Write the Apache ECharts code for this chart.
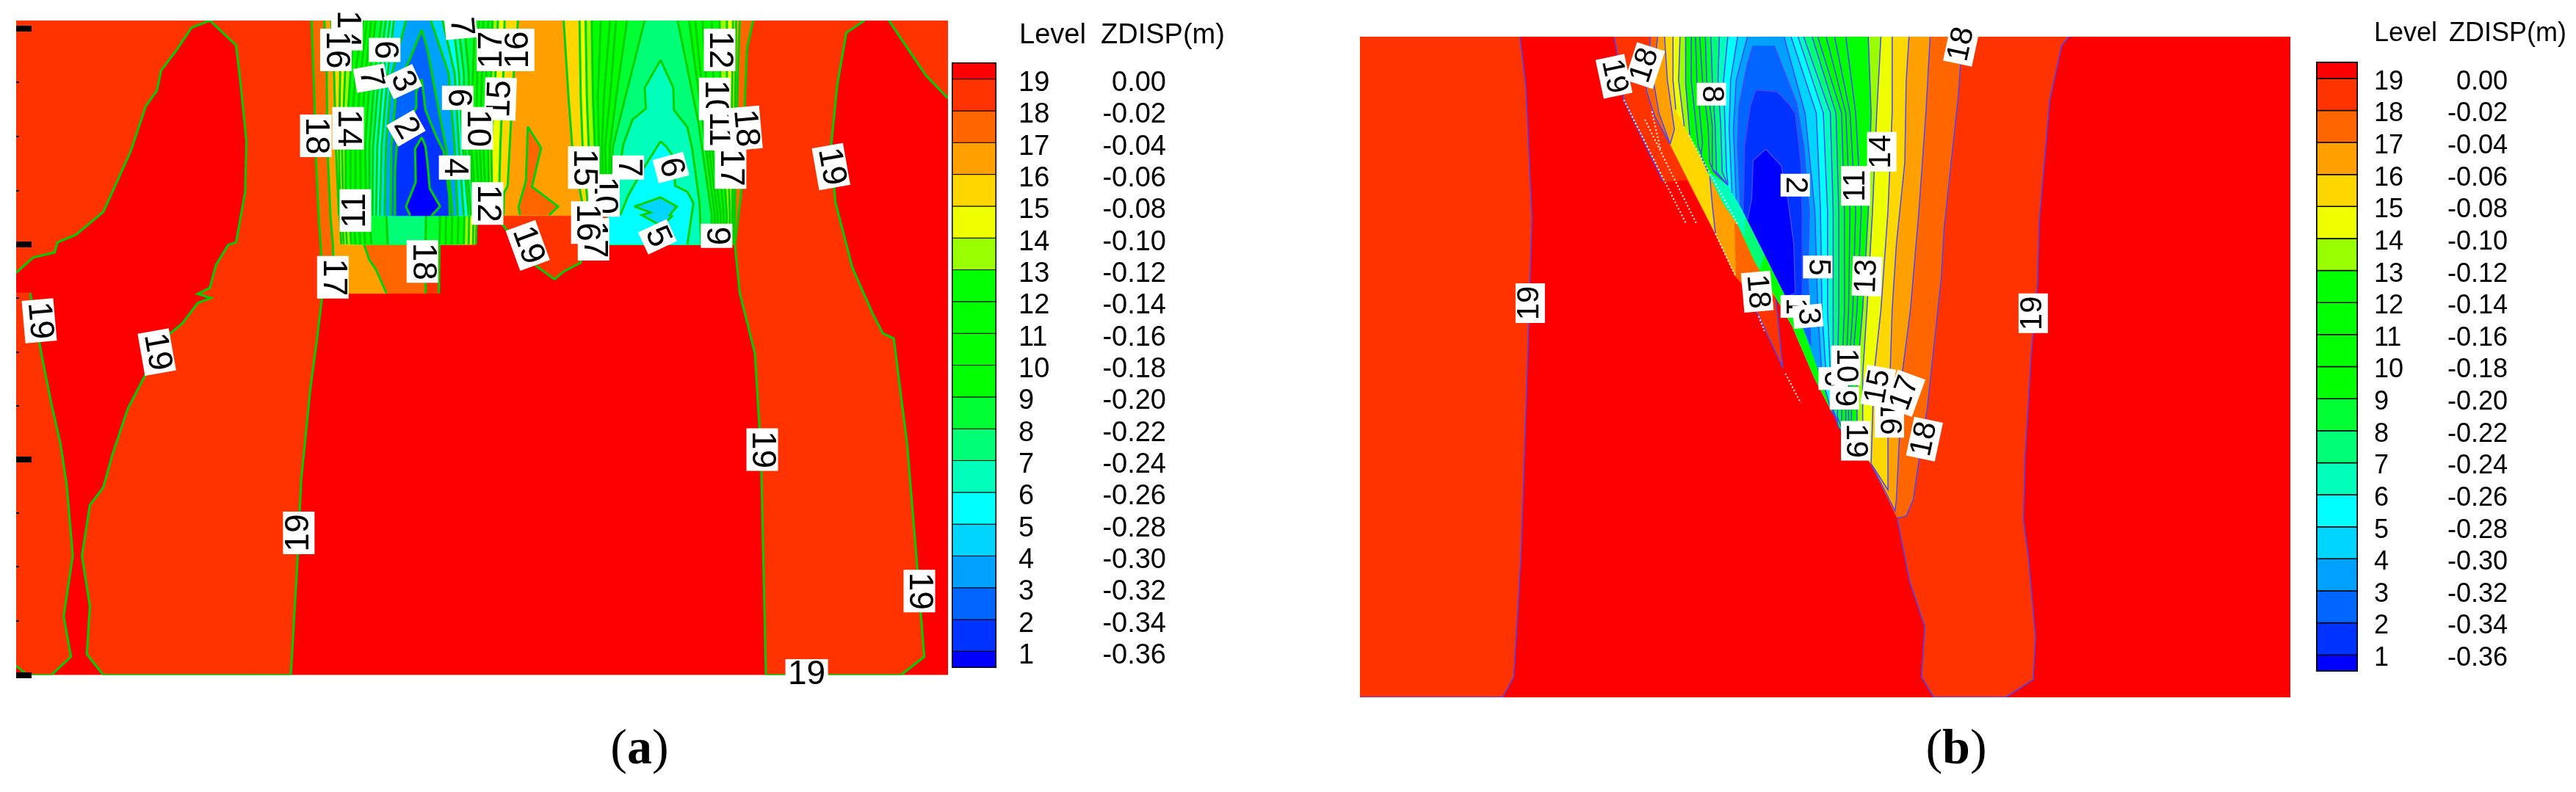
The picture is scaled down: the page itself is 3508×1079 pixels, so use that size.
<!DOCTYPE html>
<html>
<head>
<meta charset="utf-8">
<script src="https://cdn.jsdelivr.net/npm/echarts@6/dist/echarts.min.js"></script>
<style>
html,body{margin:0;padding:0;background:#fff}
#chart{width:3508px;height:1079px}
</style>
</head>
<body>
<div id="chart"></div>
<script>
// legend table
const levels = [19,18,17,16,15,14,13,12,11,10,9,8,7,6,5,4,3,2,1];
const zdisp = ['0.00','-0.02','-0.04','-0.06','-0.08','-0.10','-0.12','-0.14','-0.16','-0.18','-0.20','-0.22','-0.24','-0.26','-0.28','-0.30','-0.32','-0.34','-0.36'];
// colour of the band just under level i+1 (index 0 = deepest)
const bandColors = ['#0000FF','#0033FF','#0066FF','#00A0FF','#00D5FF','#00FFFF','#00FFBB','#00FF77','#00FF33','#00FF00','#00FF00','#00FF00','#00FF00','#99FF00','#EEFF00','#FFD700','#FFA000','#FF6600','#FF3300','#FF0000'];

// panel (a) contours, in the units of the axes below
const aBase = [[27,41],[1557,41],[1557,1336],[27,1336]];
const a19Left1 = [[27,41],[345,41],[315,55],[290,100],[265,140],[258,180],[240,210],[215,300],[185,380],[170,420],[125,465],[95,480],[90,500],[55,510],[27,540]];
const a19Left2 = [[27,580],[50,580],[70,710],[85,800],[100,880],[110,960],[120,1100],[105,1220],[117,1300],[85,1336],[45,1336],[27,1318]];
const a19Main = [[345,41],[388,90],[395,160],[405,280],[403,380],[388,480],[375,485],[355,525],[345,570],[325,582],[347,590],[325,600],[300,640],[280,660],[240,740],[210,810],[185,900],[170,965],[148,1000],[135,1100],[148,1200],[143,1295],[170,1336],[478,1336],[488,1130],[495,950],[510,770],[520,680],[530,581],[721,581],[722,484],[782,484],[782,440],[822,440],[882,528],[911,553],[927,537],[954,520],[954,484],[1207,484],[1215,580],[1240,700],[1250,900],[1258,1336],[1480,1336],[1518,1300],[1505,1100],[1490,880],[1468,670],[1450,660],[1433,620],[1400,530],[1372,400],[1365,290],[1375,170],[1390,65],[1420,41]];
const a19Corner = [[1460,41],[1490,95],[1521,150],[1557,195],[1557,41]];
const a18 = [[512,41],[517,208],[519,310],[524,436],[527,484],[530,581],[699,581],[700,484],[782,484],[782,427],[999,427],[999,484],[1207,484],[1217,387],[1222,242],[1227,97],[1237,41]];
const a17 = [[533,41],[537,145],[538,290],[543,426],[547,484],[550,581],[635,581],[617,532],[607,515],[598,484],[782,484],[782,427],[999,427],[999,484],[1204,484],[1207,435],[1209,290],[1212,145],[1215,41]];
const a18Patch = [[867,251],[889,293],[874,370],[917,409],[902,426],[854,426],[852,409],[864,358]];
const a16L = [[544,41],[549,145],[552,290],[557,427],[827,427],[828,382],[834,368],[839,252],[844,145],[851,41]];
const a16R = [[926,41],[934,194],[940,290],[960,426],[999,426],[999,484],[1204,484],[1205,426],[1207,242],[1209,41]];
const a16S = [[558,427],[561,484],[782,484],[783,427]];
const a15L = [[557,41],[559,145],[557,290],[559,427],[819,427],[822,290],[827,145],[829,41]];
const a15R = [[952,41],[954,194],[957,290],[967,426],[999,426],[999,484],[1202,484],[1203,426],[1202,242],[1204,41]];
const a15S = [[562,427],[565,484],[777,484],[778,427]];
const a14L = [[569,41],[567,145],[562,290],[564,427],[809,427],[807,290],[814,145],[818,41]];
const a14R = [[962,41],[964,194],[967,290],[974,426],[999,426],[999,484],[1198,484],[1199,426],[1194,242],[1194,41]];
const a14S = [[567,427],[570,484],[770,484],[771,427]];
const a13L = [[582,41],[576,145],[568,290],[568,427],[804,427],[802,290],[807,145],[809,41]];
const a13R = [[972,41],[974,194],[977,290],[982,426],[999,426],[999,484],[1193,484],[1194,426],[1184,242],[1182,41]];
const a13S = [[574,427],[577,484],[762,484],[763,427]];
const a12L = [[597,41],[584,145],[576,290],[576,427],[799,427],[794,290],[799,145],[802,41]];
const a12R = [[987,41],[982,194],[984,290],[988,426],[999,426],[999,484],[1188,484],[1189,426],[1174,242],[1169,41]];
const a12S = [[581,427],[584,484],[752,484],[753,427]];
const a11L = [[603,41],[593,145],[584,290],[584,427],[794,427],[788,290],[792,145],[794,41]];
const a11R = [[1002,41],[992,194],[989,290],[992,426],[999,426],[999,484],[1183,484],[1184,426],[1164,242],[1154,41]];
const a11S = [[589,427],[592,484],[742,484],[743,427]];
const a10L = [[610,41],[601,145],[592,290],[593,427],[789,427],[782,290],[784,145],[787,41]];
const a10R = [[1012,41],[1002,194],[994,290],[997,426],[999,426],[999,484],[1178,484],[1179,426],[1159,242],[1142,41]];
const a10S = [[597,427],[600,484],[732,484],[733,427]];
const a9L = [[617,41],[608,145],[600,290],[602,427],[784,427],[774,290],[777,145],[780,41]];
const a9R = [[1030,41],[1012,194],[1002,290],[999,426],[999,484],[1173,484],[1174,426],[1154,242],[1132,41]];
const a9S = [[607,427],[610,484],[722,484],[723,427]];
const a8L = [[627,41],[616,145],[607,290],[607,427],[780,427],[770,290],[770,145],[762,41]];
const a8R = [[1059,41],[1027,194],[1007,290],[999,426],[999,484],[1168,484],[1169,426],[1147,242],[1113,41]];
const a8S = [[635,427],[637,484],[699,484],[700,427]];
const a7L = [[634,41],[623,145],[613,290],[612,427],[774,427],[764,290],[762,145],[752,41]];
const a7R = [[1085,119],[1059,174],[1061,215],[1039,237],[1024,286],[1017,339],[1012,426],[999,426],[999,484],[1152,484],[1149,402],[1137,295],[1129,252],[1107,218],[1106,174]];
const a6L = [[641,41],[630,145],[620,290],[618,427],[770,427],[760,290],[754,145],[744,41]];
const a6R = [[1085,280],[1057,334],[1032,387],[1019,426],[999,426],[999,484],[1129,484],[1139,402],[1129,380],[1109,368],[1106,310],[1094,290]];
const a5L = [[647,41],[637,145],[627,290],[624,427],[762,427],[754,290],[747,145],[727,41]];
const a5R = [[1042,409],[1085,391],[1112,409],[1100,426],[1104,428],[1087,448],[1054,426],[1069,421]];
const a4 = [[667,41],[644,145],[634,290],[632,427],[752,427],[747,290],[737,145],[708,41]];
const a3 = [[693,59],[672,121],[652,169],[643,290],[642,427],[744,427],[734,300],[717,194],[702,97]];
const a2 = [[693,157],[684,181],[684,213],[652,286],[649,339],[649,427],[739,427],[738,387],[729,300],[717,271],[699,218]];
const a1 = [[693,272],[682,295],[683,361],[667,409],[674,427],[709,427],[723,409],[706,373],[702,319],[699,290]];

const aContours = [[20,aBase],[19,a19Left1],[19,a19Left2],[19,a19Main],[19,a19Corner],[18,a18],[17,a17],[18,a18Patch],
  [16,a16L],[16,a16R],[16,a16S],[15,a15L],[15,a15R],[15,a15S],[14,a14L],[14,a14R],[14,a14S],[13,a13L],[13,a13R],[13,a13S],
  [12,a12L],[12,a12R],[12,a12S],[11,a11L],[11,a11R],[11,a11S],[10,a10L],[10,a10R],[10,a10S],[9,a9L],[9,a9R],[9,a9S],
  [8,a8L],[8,a8R],[8,a8S],[7,a7L],[7,a7R],[6,a6L],[6,a6R],[5,a5L],[5,a5R],[4,a4],[3,a3],[2,a2],[1,a1]];
// text, x, y, rotation in degrees
const aLabels = [['14',570,58,-90],['16',552,99,-90],['6',632,99,-90],['7',609,155,-80],['3',662,162,-65],['2',667,254,-60],['14',572,254,-90],['18',519,269,-90],
  ['7',757,53,-85],['17',809,99,90],['16',852,99,90],['15',822,196,88],['6',752,194,-90],['10',784,254,-90],['4',747,332,-90],['12',801,403,-90],['11',584,417,90],
  ['18',694,518,-90],['17',547,549,-90],['19',867,486,-70],['10',992,387,-90],['15',959,332,-90],['17',975,474,-90],['16',964,441,-90],['7',1032,332,-90],['6',1102,332,-75],
  ['5',1080,469,-65],['9',1177,467,-90],['12',1182,99,-90],['10',1174,196,-90],['11',1182,256,-90],['18',1224,254,-85],['17',1200,332,-90],
  ['19',65,635,-85],['19',258,697,-80],['19',491,1055,90],['19',1252,890,-90],['19',1365,330,-80],['19',1510,1170,-90],['19',1325,1336,0]];
const aCutX = [27,782,999,1557];
const aMajorTicks = [57,484,909,1336];
const aMinorTicks = [163,270,377,590,697,803,1015,1122,1229];

// panel (b) contours
const bBase = [[-779,67],[2532,67],[2532,2083],[-779,2083]];
const bLowerEdge = [[627,754],[700,860],[760,950],[840,1110],[900,1210],[1040,1370]];
const bUpperEdge = [[460,480],[514,575],[566,640]];
const bInnerEdge = [[580,592],[640,694],[700,797],[737,860]];
const b19Left = [[-779,67],[-210,67],[-189,217],[-167,618],[-182,1034],[-206,1651],[-232,2021],[-271,2083],[-779,2083]];
const b19Main = [[125,67],[135,110],[160,260],[300,510],[385,505],[486,668],[558,799],[580,821],[640,920],[725,1075],[700,860],[760,950],[840,1110],[900,1210],[1040,1370],[1133,1536],[1177,1728],[1231,1867],[1220,2021],[1263,2083],[1519,2083],[1617,2029],[1625,1898],[1599,1651],[1582,1543],[1588,1343],[1610,1034],[1632,819],[1638,634],[1675,264],[1718,94],[1744,67]];
const b18 = [[255,67],[240,230],[270,310],[325,395],[486,668],[558,799],[580,821],...bLowerEdge.slice(1),[1133,1536],[1140,1535],[1165,1530],[1190,1480],[1205,1390],[1240,1200],[1265,1000],[1290,800],[1300,650],[1325,450],[1350,250],[1360,130],[1370,67]];
const b17 = [[280,67],[265,200],[285,300],[325,395],[486,668],[558,799],[553,634],[566,640],...bLowerEdge,[1125,1515],[1130,1480],[1140,1300],[1150,1100],[1180,900],[1210,600],[1235,300],[1250,67]];
const b16 = [[305,67],[315,200],[340,350],[325,395],[486,668],[475,582],[466,492],...bUpperEdge,...bLowerEdge,[1100,1450],[1100,1300],[1115,900],[1130,700],[1160,450],[1165,200],[1175,67]];
const b15 = [[335,67],[335,200],[345,290],...bUpperEdge,...bLowerEdge,[1050,1100],[1075,900],[1100,600],[1115,300],[1115,67]];
const b14 = [[360,67],[355,200],[375,340],...bUpperEdge,...bLowerEdge.slice(0,5),[1010,1340],[1010,1100],[1025,900],[1045,600],[1060,300],[1075,67]];
const b13 = [[380,67],[380,210],[395,370],...bUpperEdge,...bLowerEdge.slice(0,5),[990,1320],[990,1100],[1010,900],[1030,600],[1040,300],[1030,67]];
const b12 = [[400,67],[400,200],[425,400],...bUpperEdge,...bLowerEdge.slice(0,5),[970,1300],[970,1100],[990,900],[1005,600],[985,300],[950,67]];
const b11 = [[415,67],[420,200],[440,390],[435,430],...bUpperEdge,...bLowerEdge.slice(0,5),[960,1290],[960,1100],[975,900],[985,600],[965,300],[910,67]];
const bSliver7 = [[460,480],[530,520],[580,592],[593,614],[590,682],[566,640],[514,575]];
const bSliver8 = [[593,614],[640,694],[660,730],[645,780],[627,754],[590,682]];
const b10 = [[430,67],[440,200],[460,340],[465,450],[480,480],[530,520],...bInnerEdge,[800,960],[870,1120],[925,1260],[950,1280],[950,1100],[960,900],[965,600],[950,300],[880,67]];
const b9 = [[450,67],[455,200],[475,340],[475,470],[530,520],...bInnerEdge,[800,960],[870,1120],[935,1260],[935,1100],[945,900],[945,600],[935,300],[850,67]];
const b8 = [[470,67],[475,200],[485,340],[490,480],[530,520],...bInnerEdge,[800,960],[870,1120],[920,1240],[920,1100],[925,900],[925,600],[915,300],[830,67]];
const b7 = [[500,67],[495,200],[505,340],[510,480],[530,520],...bInnerEdge,[800,960],[870,1120],[905,1210],[905,1100],[905,900],[905,600],[895,300],[800,67]];
const b6 = [[530,67],[515,200],[520,340],[525,470],[530,520],...bInnerEdge,[800,960],[870,1120],[895,1200],[895,1100],[885,900],[885,600],[870,300],[780,67]];
const b5 = [[565,67],[540,200],[535,350],[545,544],[560,563],...bInnerEdge,[800,960],[870,1120],[878,1150],[880,1100],[865,900],[860,600],[845,300],[755,67]];
const b4 = [[600,67],[560,200],[550,350],[560,563],...bInnerEdge,[800,960],[850,1080],[865,1100],[850,900],[840,600],[805,300],[730,67]];
const b3 = [[620,95],[600,150],[570,280],[565,400],[575,585],...bInnerEdge,[800,960],[825,1010],[815,800],[820,600],[800,400],[775,270],[695,95]];
const b2 = [[630,230],[610,280],[590,400],[585,600],[640,694],[700,797],[737,860],[790,945],[795,850],[795,620],[790,450],[770,300],[745,270],[705,235]];
const b1 = [[665,410],[620,445],[615,560],[600,626],[640,694],[700,797],[737,860],[770,850],[765,700],[745,570],[720,460]];
const bContours = [[20,bBase],[19,b19Left],[19,b19Main],[18,b18],[17,b17],[16,b16],[15,b15],[14,b14],[13,b13],[12,b12],[11,b11],[7,bSliver7],[8,bSliver8],
  [10,b10],[9,b9],[8,b8],[7,b7],[6,b6],[5,b5],[4,b4],[3,b3],[2,b2],[1,b1]];
const bLabels = [['19',-173,880,90],['19',1617,911,90],['19',125,188,-78],['18',235,155,72],['8',472,242,-90],['18',1362,90,78],['2',770,520,-90],['14',1078,418,90],['11',985,522,90],
  ['5',850,770,-90],['13',1025,798,88],['18',635,845,-85],['1',770,890,-90],['3',815,920,-85],['6',905,1110,-90],['10',950,1070,-90],['9',945,1170,-90],['19',985,1300,-90],
  ['16',1105,1230,-90],['15',1065,1135,80],['17',1160,1155,70],['18',1230,1295,78]];
// edges of the cut-out wedge carry no contour line
const bEdgePoints = [[300,510],[385,505],[325,395],[486,668],[558,799],[580,821],[553,634],[345,290],[375,340],[395,370],[466,492],[530,520],[545,544],[560,563],[575,585],[585,600],[600,626],[593,614],[590,682],[660,730],[645,780],[790,945],[800,960],[825,1010],[850,1080],[870,1120],[1133,1536],...bUpperEdge,...bLowerEdge,...bInnerEdge];
const bCutX = [-779,2532];
const bDots1 = [[160,260],[380,635]];
const bDots2 = [[235,320],[420,640]];
const bDots3 = [[260,295],[290,410]];
const bDots4 = [[640,920],[660,965]];
const bDots5 = [[735,1095],[790,1185]];
const bDots6 = [[392,368],[566,640]];
const bDots7 = [[486,668],[558,799]];

const key = p => p[0] + ',' + p[1];

function contourSeries(name, contours, xIdx, yIdx, lineColor, lineWidth, bottom, cutX, edgePoints) {
  const edges = new Set(edgePoints.map(key));
  return {
    type: 'custom', name, xAxisIndex: xIdx, yAxisIndex: yIdx, clip: true, z: 2, silent: true,
    data: contours.map((c, i) => [i]),
    renderItem(params, api) {
      const [level, raw] = contours[api.value(0)];
      const pts = raw.map(p => api.coord(p));
      const fill = bandColors[level - 1];
      const children = [{type: 'polygon', shape: {points: pts}, style: {fill, stroke: fill, lineWidth: 0.5}}];
      if (level < 20) {
        let run = [];
        const flush = () => {
          if (run.length > 1) children.push({type: 'polyline', shape: {points: run}, style: {fill: null, stroke: lineColor, lineWidth}});
          run = [];
        };
        raw.forEach((p, i) => {
          const j = (i + 1) % raw.length, q = raw[j];
          const skip = (p[1] === q[1] && p[1] !== bottom) || (p[0] === q[0] && cutX.includes(p[0])) || (edges.has(key(p)) && edges.has(key(q)));
          if (skip) { flush(); return; }
          if (!run.length) run.push(pts[i]);
          run.push(pts[j]);
        });
        flush();
      }
      return {type: 'group', children};
    }
  };
}

function labelSeries(name, labels, xIdx, yIdx, fontSize, boxSide, digitW) {
  return {
    type: 'custom', name, xAxisIndex: xIdx, yAxisIndex: yIdx, clip: false, z: 5, silent: true,
    data: labels.map((l, i) => [i]),
    renderItem(params, api) {
      const [text, x, y, rot] = labels[api.value(0)];
      const c = api.coord([x, y]);
      const w = text.length * digitW + 8;
      return {
        type: 'group', x: c[0], y: c[1], rotation: rot * Math.PI / 180,
        children: [
          {type: 'rect', shape: {x: -w / 2, y: -boxSide / 2, width: w, height: boxSide}, style: {fill: '#fff'}},
          {type: 'text', style: {text, x: 0, y: 0, align: 'center', verticalAlign: 'middle', fontFamily: 'Liberation Sans', fontSize, fill: '#000'}}
        ]
      };
    }
  };
}

function dotSeries(data, xIdx, yIdx) {
  return {type: 'line', data, xAxisIndex: xIdx, yAxisIndex: yIdx, symbol: 'none', silent: true, z: 4, lineStyle: {color: '#fff', width: 2, type: [2, 3]}};
}

function colorbarSeries(xIdx, yIdx, lineWidth) {
  return {
    type: 'custom', xAxisIndex: xIdx, yAxisIndex: yIdx, clip: true, silent: true,
    data: bandColors.map((c, i) => [i]),
    renderItem(params, api) {
      const i = api.value(0);
      const a = api.coord([0, Math.min(i + 1, 19.5)]);
      const b = api.coord([1, Math.max(i, 0.5)]);
      return {type: 'rect', shape: {x: a[0], y: a[1], width: b[0] - a[0], height: b[1] - a[1]}, style: {fill: bandColors[i], stroke: '#000', lineWidth}};
    }
  };
}

function legendAxis(gridIndex, fontSize, colLevel, colValue, margin, shift) {
  return {
    gridIndex, type: 'value', min: 0.5, max: 19.5, position: 'right', splitLine: {show: false}, axisLine: {show: false}, axisTick: {show: false},
    axisLabel: {
      show: true, customValues: levels, margin, padding: [shift * 2, 0, 0, 0],
      formatter: v => '{l|' + v + '}{v|' + zdisp[levels.indexOf(v)] + '}',
      rich: {
        l: {width: colLevel, align: 'left', fontFamily: 'Liberation Sans', fontSize, color: '#000'},
        v: {width: colValue, align: 'right', fontFamily: 'Liberation Sans', fontSize, color: '#000'}
      }
    }
  };
}

const hiddenX = (gridIndex, min, max) => ({gridIndex, type: 'value', min, max, show: false});
const plain = (text, left, top, fontSize) => ({text, left, top, padding: 0, textStyle: {fontFamily: 'Liberation Sans', fontWeight: 'normal', fontSize, color: '#000'}});
const caption = (letter, left) => ({
  text: '{n|(}{b|' + letter + '}{n|)}', left, top: 988, padding: 0, textAlign: 'center',
  textStyle: {fontWeight: 'normal', rich: {n: {fontFamily: 'Liberation Serif', fontWeight: 'normal', fontSize: 68, color: '#000'}, b: {fontFamily: 'Liberation Serif', fontWeight: 'bold', fontSize: 68, color: '#000'}}}
});

const chart = echarts.init(document.getElementById('chart'));
chart.setOption({
  animation: false,
  backgroundColor: '#fff',
  title: [
    plain('Level', 1388, 30, 38), plain('ZDISP(m)', 1499, 30, 38),
    plain('Level', 3233, 28, 36), plain('ZDISP(m)', 3335, 28, 36),
    caption('a', 871), caption('b', 2664)
  ],
  grid: [
    {left: 22, top: 28, width: 1269, height: 891.5},
    {left: 1297, top: 86, width: 59, height: 823, show: true, borderColor: '#000', borderWidth: 2, backgroundColor: 'transparent'},
    {left: 1852, top: 50, width: 1267, height: 900},
    {left: 3155, top: 85, width: 55, height: 829, show: true, borderColor: '#000', borderWidth: 2, backgroundColor: 'transparent'}
  ],
  xAxis: [hiddenX(0, 27, 1557), hiddenX(1, 0, 1), hiddenX(2, -779, 2532), hiddenX(3, 0, 1)],
  yAxis: [
    {gridIndex: 0, type: 'value', inverse: true, min: 41, max: 1336, z: 10, splitLine: {show: false}, axisLine: {show: false}, axisLabel: {show: false},
      axisTick: {show: true, inside: true, length: 21, customValues: aMajorTicks, lineStyle: {color: '#000', width: 8}}},
    {gridIndex: 0, type: 'value', inverse: true, min: 41, max: 1336, z: 10, position: 'left', splitLine: {show: false}, axisLine: {show: false}, axisLabel: {show: false},
      axisTick: {show: true, inside: true, length: 4, customValues: aMinorTicks, lineStyle: {color: '#000', width: 2}}},
    legendAxis(1, 38, 111, 90, 31, 6),
    {gridIndex: 2, type: 'value', inverse: true, min: 67, max: 2083, show: false},
    legendAxis(3, 36, 102, 80, 23, 5)
  ],
  series: [
    contourSeries('panel a', aContours, 0, 0, '#00D000', 3, 1336, aCutX, []),
    labelSeries('labels a', aLabels, 0, 0, 46, 43, 25),
    colorbarSeries(1, 2, 1),
    contourSeries('panel b', bContours, 2, 3, '#4646FF', 1.5, 2083, bCutX, bEdgePoints),
    dotSeries(bDots1, 2, 3), dotSeries(bDots2, 2, 3), dotSeries(bDots3, 2, 3), dotSeries(bDots4, 2, 3), dotSeries(bDots5, 2, 3), dotSeries(bDots6, 2, 3), dotSeries(bDots7, 2, 3),
    labelSeries('labels b', bLabels, 2, 3, 42, 40, 23),
    colorbarSeries(3, 4, 1.5)
  ]
});
window.onresize = () => chart.resize();
</script>
</body>
</html>
